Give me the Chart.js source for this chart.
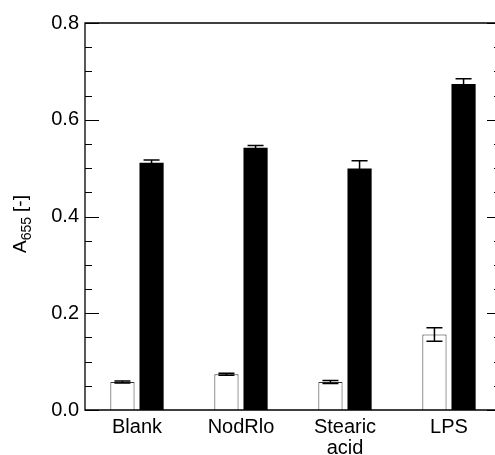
<!DOCTYPE html>
<html>
<head>
<meta charset="utf-8">
<script src="https://cdn.jsdelivr.net/npm/chart.js@4.4.1/dist/chart.umd.min.js"></script>
<style>
    html, body { margin: 0; padding: 0; background: #fff; overflow: hidden; }
    #wrap { width: 495px; height: 455px; overflow: hidden; }
</style>
</head>
<body>
<div id="wrap"><canvas id="chart" width="510" height="455"></canvas></div>
<script>
const categories = ['Blank', 'NodRlo', ['Stearic', 'acid'], 'LPS'];
const whiteValues = [0.058, 0.074, 0.058, 0.156];
const whiteErrors = [0.002, 0.002, 0.003, 0.014];
const blackValues = [0.511, 0.542, 0.499, 0.674];
const blackErrors = [0.006, 0.005, 0.016, 0.011];
const yTicks = [0.0, 0.2, 0.4, 0.6, 0.8];

const FONT = 'Liberation Sans, Arial, Helvetica, sans-serif';

// axis frame + inward ticks + error bars + y title
const framePlugin = {
    id: 'frame',
    afterDatasetsDraw(chart) {
        const ctx = chart.ctx;
        const area = chart.chartArea;
        const y = chart.scales.y;

        // error bars
        ctx.save();
        ctx.strokeStyle = '#000';
        ctx.lineWidth = 1.5;
        [[0, whiteValues, whiteErrors], [1, blackValues, blackErrors]].forEach(([di, vals, errs]) => {
            const meta = chart.getDatasetMeta(di);
            meta.data.forEach((bar, i) => {
                const cx = bar.x;
                const top = y.getPixelForValue(vals[i] + errs[i]);
                const bot = y.getPixelForValue(vals[i] - errs[i]);
                const half = 8;
                ctx.beginPath();
                ctx.moveTo(cx, top);
                ctx.lineTo(cx, bot);
                ctx.moveTo(cx - half, top);
                ctx.lineTo(cx + half, top);
                ctx.moveTo(cx - half, bot);
                ctx.lineTo(cx + half, bot);
                ctx.stroke();
            });
        });
        ctx.restore();

        ctx.save();
        ctx.strokeStyle = '#000';
        ctx.lineWidth = 1.3;
        ctx.beginPath();
        ctx.moveTo(area.left, area.top);
        ctx.lineTo(area.right, area.top);
        ctx.lineTo(area.right, area.bottom);
        ctx.lineTo(area.left, area.bottom);
        ctx.closePath();
        ctx.stroke();

        // ticks every 0.05, major every 0.2
        ctx.lineWidth = 1.2;
        for (let k = 0; k <= 16; k++) {
            const v = k * 0.05;
            const py = Math.round(y.getPixelForValue(v)) + 0.5;
            const len = (k % 4 === 0) ? 14 : 7;
            ctx.beginPath();
            ctx.moveTo(area.left, py);
            ctx.lineTo(area.left + len, py);
            ctx.moveTo(area.right, py);
            ctx.lineTo(area.right - len, py);
            ctx.stroke();
        }
        ctx.restore();

        // y axis title A655 [-]
        ctx.save();
        ctx.translate(32, 253);
        ctx.rotate(-Math.PI / 2);
        ctx.fillStyle = '#000';
        ctx.textBaseline = 'alphabetic';
        ctx.textAlign = 'left';
        ctx.font = '19px ' + FONT;
        ctx.fillText('A', 0, -6);
        let w = ctx.measureText('A').width;
        ctx.font = '14px ' + FONT;
        ctx.fillText('655', w, -1);
        w += ctx.measureText('655').width + 5;
        ctx.font = '19px ' + FONT;
        ctx.fillText('[-]', w, -6);
        ctx.restore();
    }
};

new Chart(document.getElementById('chart'), {
    type: 'bar',
    data: {
        labels: categories,
        datasets: [{
            data: whiteValues,
            backgroundColor: '#fff',
            borderColor: '#333',
            borderWidth: 1,
            borderSkipped: 'bottom',
            barPercentage: 0.83,
            categoryPercentage: 0.56
        }, {
            data: blackValues,
            backgroundColor: '#000',
            borderWidth: 0,
            barPercentage: 0.83,
            categoryPercentage: 0.56
        }]
    },
    options: {
        responsive: false,
        animation: false,
        events: [],
        layout: { padding: { top: 23, right: 9, left: 0, bottom: 0 } },
        plugins: { legend: { display: false }, tooltip: { enabled: false } },
        scales: {
            x: {
                grid: { display: false, drawTicks: false },
                border: { display: false },
                ticks: {
                    color: '#000',
                    padding: 7,
                    maxRotation: 0,
                    font: { family: FONT, size: 20, lineHeight: 1.05 }
                },
                afterFit(scale) { scale.height = 45; }
            },
            y: {
                min: 0,
                max: 0.8,
                grid: { display: false, drawTicks: false },
                border: { display: false },
                afterBuildTicks(scale) { scale.ticks = yTicks.map(v => ({ value: v })); },
                ticks: {
                    color: '#000',
                    padding: 6,
                    font: { family: FONT, size: 20 },
                    callback: v => v.toFixed(1)
                },
                afterFit(scale) { scale.width = 85; }
            }
        }
    },
    plugins: [framePlugin]
});
</script>
</body>
</html>
